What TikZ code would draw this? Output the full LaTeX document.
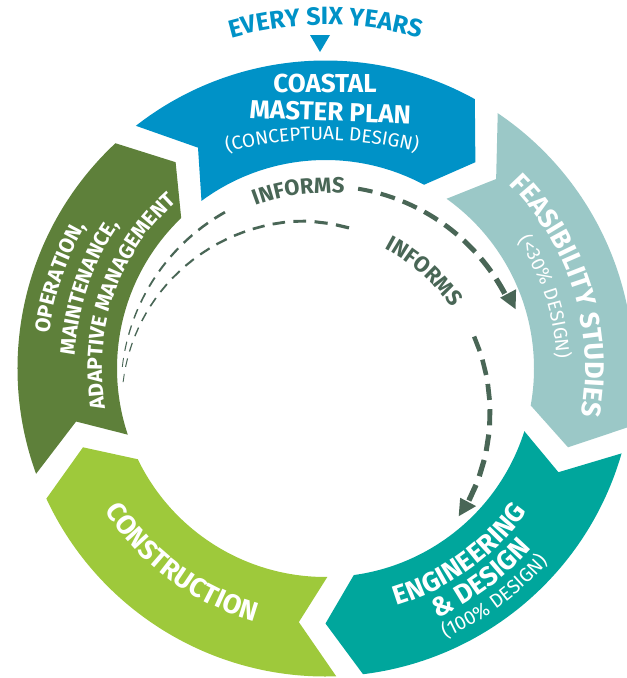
\documentclass[tikz,border=0pt]{standalone}
\usepackage{fontspec}
\setmainfont{Fira Sans}
\usetikzlibrary{decorations.text}
\definecolor{cmpblue}{HTML}{0092C7}
\definecolor{feas}{HTML}{9BC8C7}
\definecolor{engteal}{HTML}{00A69C}
\definecolor{constr}{HTML}{9EC93B}
\definecolor{opgreen}{HTML}{5E803A}
\definecolor{dashcol}{HTML}{496656}
\newcommand\fB[1]{\bfseries\fontsize{#1}{#1}\selectfont}
\newcommand\fL[1]{\mdseries\fontsize{#1}{#1}\selectfont}
% chevron ring segment: start, end (compass degrees), colour
\newcommand\cycseg[3]{\fill[#3] ({90-(#1)}:308) arc[start angle={90-(#1)}, end angle={90-(#2)}, radius=308]
  -- ({83-(#2)}:255) -- ({90.8-(#2)}:208.5)
  arc[start angle={90.8-(#2)}, end angle={88.5-(#1)}, radius=208.5]
  -- ({82-(#1)}:255) -- cycle;}
% clockwise text: colour, compass centre, baseline radius, text
\newcommand\cwtext[4]{\path[decorate, decoration={text along path, text align=center, text color=#1, text={#4}}]
  ({150-(#2)}:#3) arc[start angle={150-(#2)}, end angle={30-(#2)}, radius=#3];}
% counter-clockwise text
\newcommand\ccwtext[4]{\path[decorate, decoration={text along path, text align=center, text color=#1, text={#4}}]
  ({30-(#2)}:#3) arc[start angle={30-(#2)}, end angle={150-(#2)}, radius=#3];}
\tikzset{dashseg/.style={draw=dashcol}, headfill/.style={fill=dashcol}}
\begin{document}
\begin{tikzpicture}[x=1pt,y=1pt]
\useasboundingbox (0,0) rectangle (627,-678);
\clip (0,0) rectangle (627,-678);

% ring
\begin{scope}[shift={(325.5,-368.5)}]
  \cycseg{-38}{29}{cmpblue}
  \cycseg{34}{101}{feas}
  \cycseg{106}{173}{engteal}
  \cycseg{178}{245}{constr}
  \cycseg{250}{317}{opgreen}
  \cwtext{cmpblue}{0}{343.5}{|\fB{25}|EVERY SIX YEARS}
  \cwtext{white}{72.7}{260}{|\fB{27}|FEASIBILITY STUDIES}
  \cwtext{white}{72}{231}{|\fL{19}|(<30{\%} DESIGN)}
  \cwtext{white}{289}{278.5}{|\fB{21}|OPERATION,}
  \cwtext{white}{289}{251}{|\fB{21}|MAINTENANCE,}
  \cwtext{white}{289}{223.5}{|\fB{21}|ADAPTIVE MANAGEMENT}
  \ccwtext{white}{216.5}{262.5}{|\fB{27}|CONSTRUCTION}
  \ccwtext{white}{144.3}{247.5}{|\fB{27}|ENGINEERING}
  \ccwtext{white}{143.5}{273.5}{|\fB{27}|{\&} DESIGN}
  \ccwtext{white}{143.5}{295}{|\fL{19.5}|(100{\%} DESIGN)}
\end{scope}

% marker under EVERY SIX YEARS
\fill[cmpblue] (310,-35) -- (330,-35) -- (320,-52) -- cycle;

% master plan texts
\node[text=white, font=\fB{26}, anchor=base, inner sep=0pt] (coastal) at (325,-92) {COASTAL};
\node[text=white, font=\fB{26}, anchor=base, inner sep=0pt, rotate=-2] (master) at (330,-121) {MASTER PLAN};
\path[decorate, decoration={text along path, text align=center, text color=white, text={|\fL{19}|(CONCEPTUAL DESIGN)}}]
  ([shift={(115:370)}]322,-510) arc[start angle=115, end angle=65, radius=370];

% outer dashed arrow (informs feasibility)
\begin{scope}[shift={(325,-390)}]
  \foreach \k in {0,...,24}{
    \pgfmathsetmacro\dT{\k/24}
    \pgfmathsetmacro\dA{-83.5+140.5*(0.77*\dT+0.23*\dT*\dT)}
    \pgfmathsetmacro\dB{\dA+(9+8*\dT)/204*57.3}
    \pgfmathsetmacro\dW{0.9+4.4*\dT}
    \pgfmathtruncatemacro\dV{((\dB<-24)||(\dA>9))?1:0}
    \ifnum\dV=1
      \draw[dashseg, line width={\dW pt}] ({90-(\dA)}:204) arc[start angle={90-(\dA)}, end angle={90-(\dB)}, radius=204];
    \fi
  }
  \coordinate (tipA) at ({90-67}:207);
  \fill[headfill] (tipA) -- ({90-62.2}:216) -- ({90-62.2}:198) -- cycle;
  \cwtext{dashcol}{-7.6}{197}{|\fB{22}|INFORMS}
\end{scope}

% inner dashed arrow (informs engineering)
\begin{scope}[shift={(298,-413)}]
  \foreach \k in {0,...,30}{
    \pgfmathsetmacro\dT{\k/30}
    \pgfmathsetmacro\dA{-80+192*(0.77*\dT+0.23*\dT*\dT)}
    \pgfmathsetmacro\dB{\dA+(9+8*\dT)/190*57.3}
    \pgfmathsetmacro\rA{192+0.18*min(\dA,0)}
    \pgfmathsetmacro\rB{192+0.18*min(\dB,0)}
    \pgfmathsetmacro\dW{0.9+4.4*\dT}
    \pgfmathtruncatemacro\dV{((\dB<21.5)||(\dA>60))?1:0}
    \ifnum\dV=1
      \draw[dashseg, line width={\dW pt}] ({90-(\dA)}:\rA) -- ({90-(\dB)}:\rB);
    \fi
  }
  \coordinate (tipB) at ({90-122.7}:191);
  \fill[headfill] (tipB) -- ({90-117.6}:201) -- ({90-117.6}:183) -- cycle;
  \cwtext{dashcol}{41.7}{186}{|\fB{22}|INFORMS}
\end{scope}
\end{tikzpicture}
\end{document}
